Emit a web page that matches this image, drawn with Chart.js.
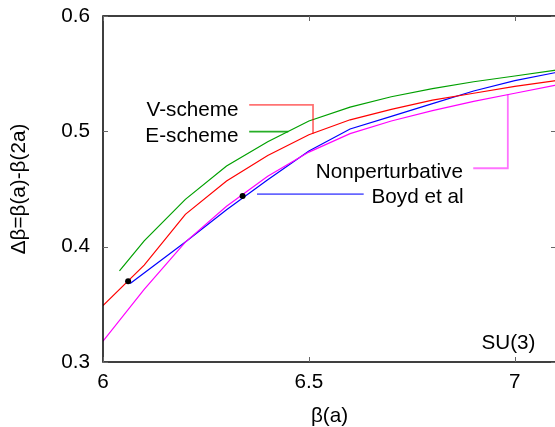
<!DOCTYPE html>
<html>
<head>
<meta charset="utf-8">
<script src="https://cdn.jsdelivr.net/npm/chart.js@4.4.1/dist/chart.umd.min.js"></script>
<style>
  html, body { margin: 0; padding: 0; background: #fff; overflow: hidden; }
  #wrap { width: 560px; height: 427px; }
</style>
</head>
<body>
<div id="wrap"><canvas id="chart" width="560" height="427"></canvas></div>
<script>
// beta(a) values and the curves
const betaGrid = [6.0, 6.1, 6.2, 6.3, 6.4, 6.5, 6.6, 6.7, 6.8, 6.9, 7.0, 7.1];
const vScheme = [0.349, 0.384, 0.428, 0.457, 0.479, 0.497, 0.510, 0.519, 0.527, 0.533, 0.539, 0.544];

const eBeta = [6.04, 6.1, 6.2, 6.3, 6.4, 6.5, 6.6, 6.7, 6.8, 6.9, 7.0, 7.1];
const eScheme = [0.379, 0.405, 0.441, 0.470, 0.491, 0.509, 0.521, 0.530, 0.537, 0.543, 0.548, 0.553];

const nonpert = [0.318, 0.363, 0.404, 0.435, 0.461, 0.482, 0.498, 0.509, 0.518, 0.526, 0.533, 0.540];

const boydBeta = [6.066, 6.2, 6.3, 6.4, 6.5, 6.6, 6.7, 6.8, 6.9, 7.0, 7.1];
const boyd = [0.368, 0.404, 0.432, 0.458, 0.483, 0.502, 0.513, 0.524, 0.535, 0.544, 0.551];

const dotBeta = [6.061, 6.339];
const dotVal = [0.370, 0.444];

const xTicks = [6, 6.5, 7];
const yTicks = [0.3, 0.4, 0.5, 0.6];

// key entries: label, colour, leader path in data coordinates, text anchor
const keys = [
    { text: 'V-scheme', color: 'rgba(255,0,0,0.55)', path: [[6.355, 0.523], [6.51, 0.523], [6.51, 0.498]], tx: 6.329, ty: 0.5185, align: 'right' },
    { text: 'E-scheme', color: 'rgba(0,160,0,0.85)', path: [[6.355, 0.4997], [6.45, 0.4997]], tx: 6.329, ty: 0.4957, align: 'right' },
    { text: 'Nonperturbative', color: 'rgba(255,0,255,0.55)', path: [[6.899, 0.468], [6.983, 0.468], [6.983, 0.532]], tx: 6.874, ty: 0.4648, align: 'right' },
    { text: 'Boyd et al', color: 'rgba(0,0,255,0.6)', path: [[6.374, 0.4456], [6.633, 0.4456]], tx: 6.652, ty: 0.4432, align: 'left' }
];

const FONT = 'Liberation Sans, Arial, sans-serif';
const FSIZE = 20.7;

function pts(xs, ys) {
    return xs.map((x, i) => ({ x: x, y: ys[i] }));
}

function lineSet(label, xs, ys, color) {
    return {
        label: label,
        data: pts(xs, ys),
        showLine: true,
        borderColor: color,
        borderWidth: 1.2,
        pointRadius: 0,
        tension: 0,
        fill: false
    };
}

// frame, inward ticks, key and annotation
const framePlugin = {
    id: 'frame',
    afterDatasetsDraw(chart) {
        const ctx = chart.ctx;
        const a = chart.chartArea;
        const xs = chart.scales.x;
        const ys = chart.scales.y;
        ctx.save();
        ctx.strokeStyle = '#000';
        ctx.lineWidth = 1.5;
        ctx.strokeRect(a.left, a.top, a.right - a.left, a.bottom - a.top);

        ctx.lineWidth = 1;
        ctx.strokeStyle = '#666';
        xTicks.forEach(v => {
            const px = Math.round(xs.getPixelForValue(v)) + 0.5;
            ctx.beginPath();
            ctx.moveTo(px, a.bottom); ctx.lineTo(px, a.bottom - 5);
            ctx.moveTo(px, a.top); ctx.lineTo(px, a.top + 5);
            ctx.stroke();
        });
        yTicks.forEach(v => {
            const py = Math.round(ys.getPixelForValue(v)) + 0.5;
            ctx.beginPath();
            ctx.moveTo(a.left, py); ctx.lineTo(a.left + 5, py);
            ctx.moveTo(a.right, py); ctx.lineTo(a.right - 5, py);
            ctx.stroke();
        });

        ctx.font = FSIZE + 'px ' + FONT;
        ctx.textBaseline = 'middle';
        keys.forEach(k => {
            ctx.strokeStyle = k.color;
            ctx.lineWidth = 1.8;
            ctx.beginPath();
            k.path.forEach((p, i) => {
                const px = xs.getPixelForValue(p[0]);
                const py = ys.getPixelForValue(p[1]);
                if (i === 0) ctx.moveTo(px, py); else ctx.lineTo(px, py);
            });
            ctx.stroke();
            ctx.fillStyle = '#000';
            ctx.textAlign = k.align;
            ctx.fillText(k.text, xs.getPixelForValue(k.tx), ys.getPixelForValue(k.ty));
        });

        ctx.textAlign = 'right';
        ctx.fillText('SU(3)', xs.getPixelForValue(7.05), ys.getPixelForValue(0.3165));
        ctx.restore();
    }
};

const ctx = document.getElementById('chart').getContext('2d');
new Chart(ctx, {
    type: 'scatter',
    data: {
        datasets: [
            {
                label: 'points',
                data: pts(dotBeta, dotVal),
                pointRadius: 3,
                pointBackgroundColor: '#000',
                pointBorderWidth: 0,
                showLine: false
            },
            lineSet('V-scheme', betaGrid, vScheme, '#ff0000'),
            lineSet('E-scheme', eBeta, eScheme, '#00a000'),
            lineSet('Nonperturbative', betaGrid, nonpert, '#ff00ff'),
            lineSet('Boyd et al', boydBeta, boyd, '#0000ff')
        ]
    },
    options: {
        responsive: false,
        animation: false,
        layout: { padding: { left: 0, top: 16, right: 2, bottom: 0 } },
        plugins: {
            legend: { display: false },
            tooltip: { enabled: false }
        },
        scales: {
            x: {
                type: 'linear',
                min: 6,
                max: 7.1,
                afterFit: s => { s.height = 65; s.paddingLeft = 0; s.paddingRight = 0; },
                afterBuildTicks: s => { s.ticks = xTicks.map(v => ({ value: v })); },
                grid: { display: false, drawTicks: false },
                border: { display: false },
                ticks: {
                    color: '#000',
                    padding: 8,
                    font: { family: FONT, size: FSIZE },
                    callback: v => String(v)
                },
                title: {
                    display: true,
                    text: 'β(a)',
                    color: '#000',
                    padding: { top: 0, bottom: -2 },
                    font: { family: FONT, size: FSIZE }
                }
            },
            y: {
                type: 'linear',
                min: 0.3,
                max: 0.6,
                afterFit: s => { s.width = 103; s.paddingTop = 0; s.paddingBottom = 0; },
                afterBuildTicks: s => { s.ticks = yTicks.map(v => ({ value: v })); },
                grid: { display: false, drawTicks: false },
                border: { display: false },
                ticks: {
                    color: '#000',
                    padding: 13,
                    font: { family: FONT, size: FSIZE },
                    callback: v => v.toFixed(1)
                },
                title: {
                    display: true,
                    text: 'Δβ=β(a)-β(2a)',
                    color: '#000',
                    padding: { top: 7, bottom: 0 },
                    font: { family: FONT, size: FSIZE }
                }
            }
        }
    },
    plugins: [framePlugin]
});
</script>
</body>
</html>
